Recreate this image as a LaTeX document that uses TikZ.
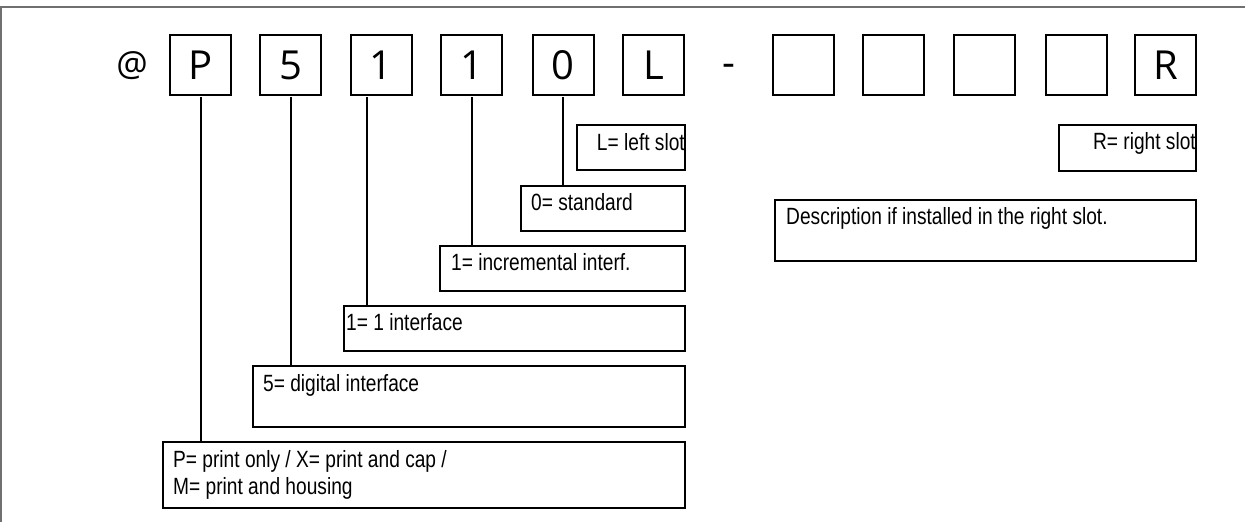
\documentclass[tikz,border=0pt]{standalone}
\usepackage{fontspec}
\newfontfamily\cellfont{Open Sans}
\newfontfamily\lblfont[FakeStretch=0.815]{Liberation Sans}
\definecolor{framegray}{HTML}{707070}
\begin{document}
\begin{tikzpicture}[x=1pt,y=-1pt,
  cell/.style={draw=black, line width=2pt, inner sep=0pt, outer sep=0pt,
    minimum width=61pt, minimum height=60pt,
    font=\cellfont\fontsize{40}{44}\selectfont},
  sym/.style={inner sep=0pt, font=\cellfont\fontsize{40}{44}\selectfont},
  descbox/.style={draw=black, line width=2pt, inner sep=0pt, outer sep=0pt, anchor=north west},
  lbl/.style={inner sep=0pt, anchor=base west, font=\lblfont\fontsize{23.5}{27}\selectfont},
  lblr/.style={lbl, anchor=base east},
  lead/.style={draw=black, line width=2pt, shorten <=2pt}
]
\useasboundingbox (0,0) rectangle (1245,522);

% page frame (top and left edges)
\draw[framegray, line width=2pt] (0,7) -- (1245,7);
\draw[framegray, line width=2pt] (1,7) -- (1,522);

% code cells
\node[sym] (at) at (132,66) {\fontsize{35}{40}\selectfont @};
\node[cell] (cP) at (200.5,65) {P};
\node[cell] (c5) at (290.5,65) {5};
\node[cell] (c1a) at (381,65) {1};
\node[cell] (c1b) at (471.5,65) {1};
\node[cell] (c0) at (563,65) {0};
\node[cell] (cL) at (653.5,65) {L};
\node[sym] (dash) at (729,70) {-};
\node[cell] (e1) at (803.5,65) {};
\node[cell] (e2) at (893.5,65) {};
\node[cell] (e3) at (984.5,65) {};
\node[cell] (e4) at (1076,65) {};
\node[cell] (cR) at (1165.5,65) {R};

% description boxes
\node[descbox, minimum width=108pt, minimum height=45pt] (bL) at (577,125) {};
\node[descbox, minimum width=164pt, minimum height=45pt] (b0) at (521,186) {};
\node[descbox, minimum width=245pt, minimum height=45pt] (b1b) at (440,246) {};
\node[descbox, minimum width=341pt, minimum height=45pt] (b1a) at (344,306) {};
\node[descbox, minimum width=432pt, minimum height=61pt] (b5) at (253,366) {};
\node[descbox, minimum width=522pt, minimum height=66pt] (bP) at (163,441.5) {};
\node[descbox, minimum width=137pt, minimum height=46pt] (bR) at (1059,124.5) {};
\node[descbox, minimum width=421pt, minimum height=61pt] (bD) at (775,200) {};

% description texts
\node[lblr] (tL) at (685,150) {L= left slot};
\node[lbl] (t0) at (531,210) {0= standard};
\node[lbl] (t1b) at (451,270) {1= incremental interf.};
\node[lbl] (t1a) at (346,330) {1= 1 interface};
\node[lbl] (t5) at (263,391) {5= digital interface};
\node[lbl] (tPa) at (173,467) {P= print only / X= print and cap /};
\node[lbl] (tPb) at (173,494) {M= print and housing};
\node[lblr] (tR) at (1196,149) {R= right slot};
\node[lbl] (tD) at (786,224) {Description if installed in the right slot.};

% leader lines from cells to their descriptions
\coordinate (c5foot) at (291.3,95);
\coordinate (c1afoot) at (367,95);
\draw[lead] (cP.south) -- (cP.south |- bP.north);
\draw[lead] (c5foot) -- (c5foot |- b5.north);
\draw[lead] (c1afoot) -- (c1afoot |- b1a.north);
\draw[lead] (c1b.south) -- (c1b.south |- b1b.north);
\draw[lead] (c0.south) -- (c0.south |- b0.north);
\end{tikzpicture}
\end{document}
